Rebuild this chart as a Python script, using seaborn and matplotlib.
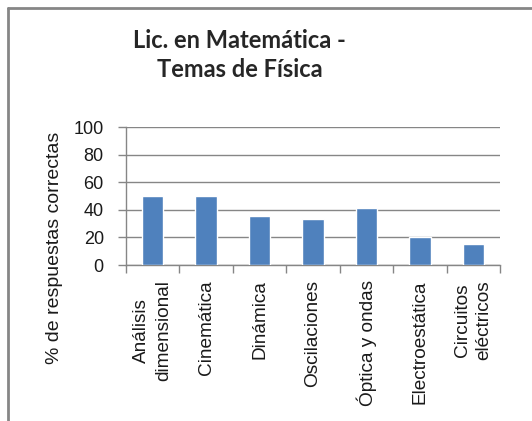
import numpy as np
import pandas as pd
import matplotlib
matplotlib.use("Agg")
import matplotlib.pyplot as plt
from matplotlib.lines import Line2D
import seaborn as sns

# data
temas = ["Análisis\ndimensional", "Cinemática", "Dinámica", "Oscilaciones",
         "Óptica y ondas", "Electroestática", "Circuitos\neléctricos"]
porcentaje = [50, 50, 35.5, 33.5, 41, 20, 15]
yticks = [0, 20, 40, 60, 80, 100]

df = pd.DataFrame({"tema": temas, "pct": porcentaje})

sns.set_style("white")
plt.rcParams["font.family"] = ["Liberation Sans", "DejaVu Sans"]

gris = "#868686"
texto = "#1a1a1a"
fig = plt.figure(figsize=(5.32, 4.21), dpi=100)
ax = fig.add_axes([0.2368, 0.3705, 0.703, 0.3278])

sns.barplot(data=df, x="tema", y="pct", order=temas, color="#4F81BD",
            width=0.4, saturation=1, ax=ax, zorder=3)

ax.set_ylim(0, 100)
ax.set_xlim(-0.5, len(temas) - 0.5)
ax.set_yticks(yticks)
ax.set_yticklabels([str(v) for v in yticks], fontsize=13, color=texto)
ax.yaxis.grid(True, color=gris, linewidth=1, zorder=0)
ax.set_axisbelow(True)

# category labels on major ticks, tick marks on the boundaries
ax.set_xticks(range(len(temas)))
ax.set_xticklabels(temas, rotation=90, fontsize=13.7, color=texto,
                   ha="center", va="top", multialignment="center",
                   linespacing=1.35)
ax.tick_params(axis="x", which="major", length=0, pad=11)
ax.set_xticks(np.arange(-0.5, len(temas), 1), minor=True)
ax.tick_params(axis="x", which="minor", length=6, width=1, color=gris,
               bottom=True, direction="out")
ax.tick_params(axis="y", length=6, width=1, color=gris, left=True,
               direction="out", pad=10)

for s in ["top", "right"]:
    ax.spines[s].set_visible(False)
for s in ["left", "bottom"]:
    ax.spines[s].set_color(gris)
    ax.spines[s].set_linewidth(1)

ax.set_xlabel("")
ax.set_ylabel("")
fig.text(55 / 532, 1 - 248 / 421, "% de respuestas correctas", rotation=90,
         ha="center", va="center", fontsize=14, color=texto)

fig.text(0.451, 0.93, "Lic. en Matemática -\nTemas de Física",
         ha="center", va="top", fontsize=17, fontweight="bold",
         family=["Lato", "DejaVu Sans"], linespacing=1.3)

# chart frame
fig.add_artist(Line2D([8 / 532, 8 / 532], [0, 1 - 8 / 421], color=gris,
                      linewidth=2, transform=fig.transFigure))
fig.add_artist(Line2D([8 / 532, 1], [1 - 8 / 421, 1 - 8 / 421], color=gris,
                      linewidth=2, transform=fig.transFigure))

fig.savefig("out.png", dpi=100)
